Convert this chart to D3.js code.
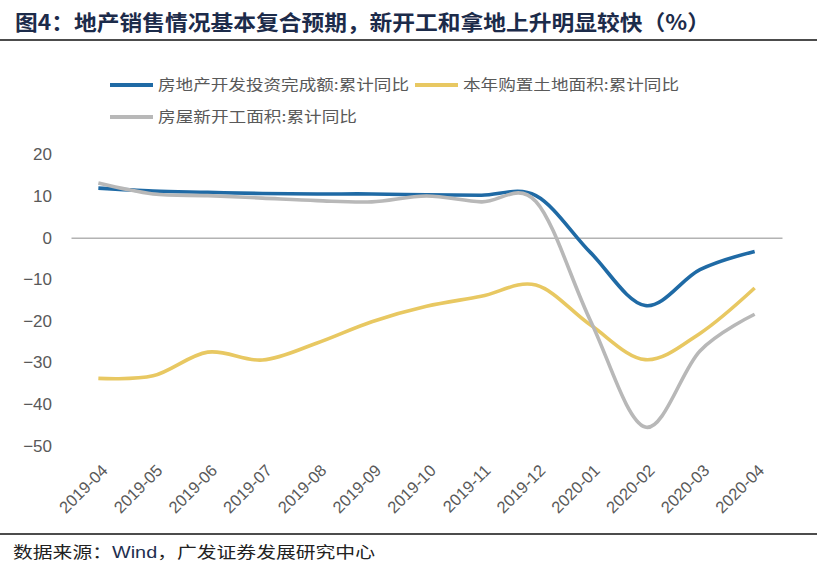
<!DOCTYPE html>
<html>
<head>
<meta charset="utf-8">
<script src="https://cdn.jsdelivr.net/npm/d3@7"></script>
<style>
  body { margin: 0; background: #fff; }
  svg { display: block; font-family: "Liberation Sans", Arial, sans-serif; }
  .cjk { font-family: "Noto Sans CJK SC", sans-serif; }
</style>
</head>
<body>
<svg id="canvas" width="817" height="572"></svg>
<script>
let months = ["2019-04", "2019-05", "2019-06", "2019-07", "2019-08", "2019-09", "2019-10",
              "2019-11", "2019-12", "2020-01", "2020-02", "2020-03", "2020-04"]

// 累计同比, %
let investment = [11.9, 11.2, 10.9, 10.6, 10.5, 10.5, 10.3, 10.2, 10.1, -3.6, -16.3, -7.7, -3.3]
let landArea = [-33.8, -33.2, -27.5, -29.4, -25.3, -20.2, -16.5, -14.1, -11.4, -21.0, -29.3, -23.0, -12.1]
let newStarts = [13.1, 10.5, 10.1, 9.5, 8.9, 8.6, 10.0, 8.6, 8.7, -20.0, -45.5, -27.2, -18.4]

let seriesNames = ["房地产开发投资完成额:累计同比", "本年购置土地面积:累计同比", "房屋新开工面积:累计同比"]
let seriesColors = ["#1f6aa5", "#e8c862", "#b8b8b8"]
let yTicks = [20, 10, 0, -10, -20, -30, -40, -50]

let series = [investment, landArea, newStarts]

let canvas = d3.select("#canvas")

// title + rules
canvas.append("text")
    .attr("class", "cjk")
    .attr("x", 15)
    .attr("y", 30)
    .attr("font-size", 21)
    .attr("font-weight", "bold")
    .attr("fill", "#1c2b4a")
    .attr("textLength", 695)
    .attr("lengthAdjust", "spacingAndGlyphs")
    .text("图4：地产销售情况基本复合预期，新开工和拿地上升明显较快（%）")

canvas.append("line")
    .attr("x1", 0).attr("x2", 817)
    .attr("y1", 40).attr("y2", 40)
    .attr("stroke", "#111").attr("stroke-width", 1.5)

canvas.append("line")
    .attr("x1", 0).attr("x2", 817)
    .attr("y1", 534).attr("y2", 534)
    .attr("stroke", "#111").attr("stroke-width", 1.5)

let source = canvas.append("text")
    .attr("class", "cjk")
    .attr("x", 13)
    .attr("y", 558)
    .attr("font-size", 16)
    .attr("fill", "#222")
    .attr("textLength", 362)
    .attr("lengthAdjust", "spacingAndGlyphs")
source.append("tspan").text("数据来源：")
source.append("tspan").attr("fill", "#1f3050")
    .style("font-family", "'Liberation Sans', Arial, sans-serif").text("Wind")
source.append("tspan").text("，广发证券发展研究中心")

// scales
let xScale = d3.scaleBand()
    .domain(months)
    .range([71, 782])

let yScale = d3.scaleLinear()
    .domain([-50, 20])
    .range([445.8, 154.4])

let xPos = (i) => xScale(months[i]) + xScale.bandwidth() / 2

// y axis (labels only)
canvas.append("g")
    .attr("transform", "translate(55,0)")
    .call(d3.axisLeft(yScale).tickValues(yTicks).tickSize(0).tickPadding(3))
    .call(g => g.select(".domain").remove())
    .selectAll("text")
    .attr("font-size", 17)
    .attr("fill", "#595959")
    .style("font-family", "'Liberation Sans', Arial, sans-serif")

// zero line
canvas.append("g")
    .attr("transform", "translate(0," + yScale(0) + ")")
    .call(d3.axisBottom(xScale).tickSize(0).tickSizeOuter(0).tickFormat(""))
    .call(g => g.select(".domain").attr("stroke", "#8c8c8c").attr("stroke-width", 1))

// x labels at the bottom
let xAxis = canvas.append("g")
    .attr("transform", "translate(0,468)")
    .call(d3.axisBottom(xScale).tickSize(0).tickSizeOuter(0))
xAxis.select(".domain").remove()
xAxis.selectAll("text")
    .attr("font-size", 16.5)
    .attr("fill", "#595959")
    .style("font-family", "'Liberation Sans', Arial, sans-serif")
    .attr("text-anchor", "end")
    .attr("dy", "0.3em")
    .attr("y", 0)
    .attr("transform", "translate(7,0) rotate(-45)")

// lines
let lineGen = d3.line()
    .x((d, i) => xPos(i))
    .y(d => yScale(d))
    .curve(d3.curveCardinal.tension(0))

canvas.selectAll("path.series")
    .data(series)
    .enter()
    .append("path")
    .attr("class", "series")
    .attr("d", d => lineGen(d))
    .attr("fill", "none")
    .attr("stroke", (d, i) => seriesColors[i])
    .attr("stroke-width", 3.6)
    .attr("stroke-linejoin", "round")

// legend
let legendPos = [[110, 85, 251], [415, 85, 216], [110, 117, 199]]
let legend = canvas.selectAll("g.legend")
    .data(seriesNames)
    .enter()
    .append("g")
    .attr("class", "legend")
    .attr("transform", (d, i) => "translate(" + legendPos[i][0] + "," + legendPos[i][1] + ")")

legend.append("line")
    .attr("x1", 0).attr("x2", 43)
    .attr("stroke", (d, i) => seriesColors[i])
    .attr("stroke-width", 4)

legend.append("text")
    .attr("class", "cjk")
    .attr("x", 48)
    .attr("dy", "0.35em")
    .attr("font-size", 15)
    .attr("fill", "#595959")
    .attr("textLength", (d, i) => legendPos[i][2])
    .attr("lengthAdjust", "spacingAndGlyphs")
    .text(d => d)
</script>
</body>
</html>
